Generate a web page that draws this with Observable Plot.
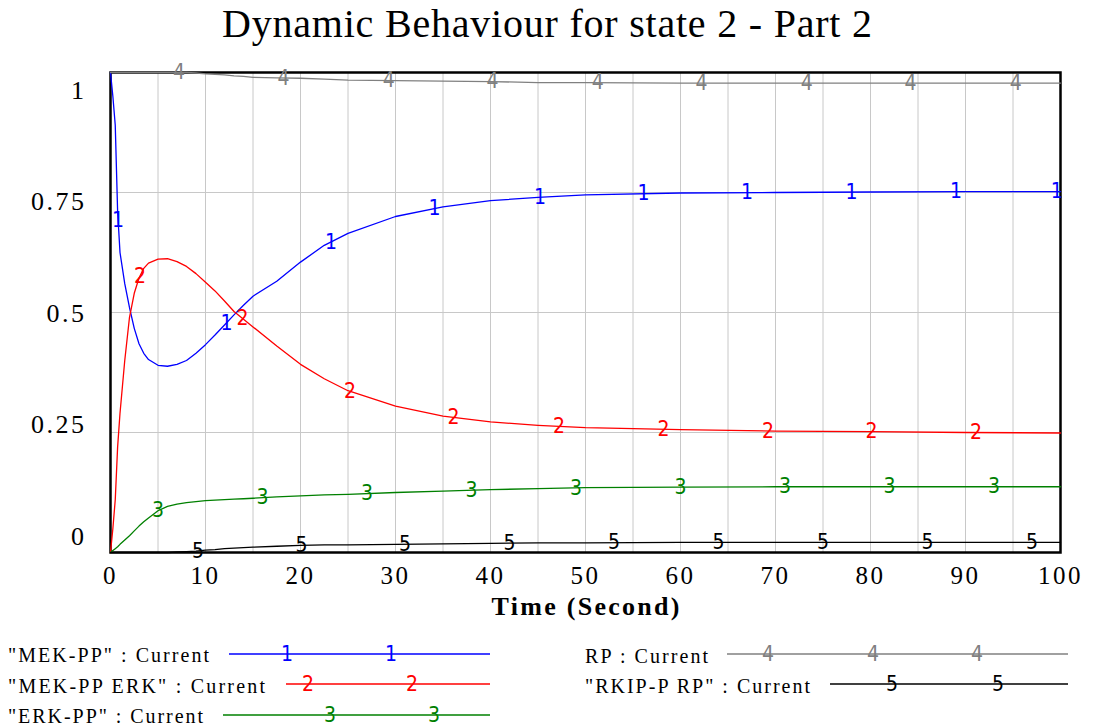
<!DOCTYPE html>
<html>
<head>
<meta charset="utf-8">
<script src="https://cdn.jsdelivr.net/npm/d3@7"></script>
<script src="https://cdn.jsdelivr.net/npm/@observablehq/plot@0.6"></script>
<style>
  html, body { margin: 0; padding: 0; background: #fff; }
  #wrap { width: 1094px; }
  svg { display: block; }
  #chart svg [aria-label$="tick label"] text { letter-spacing: 2.5px; }
</style>
</head>
<body>
<div id="wrap">
  <div id="title"></div>
  <div id="chart"></div>
  <div id="legend"></div>
</div>
<script>
// ---------- data ----------
const titleText = "Dynamic Behaviour for state 2 - Part 2";
const xLabel = "Time (Second)";

const time = [0, 0.25, 0.5, 0.75, 1, 1.5, 2, 2.5, 3, 3.5, 4, 5, 6, 7, 8, 9, 10, 11, 12, 13, 14, 15,
  17.5, 20, 22.5, 25, 30, 35, 40, 45, 50, 60, 70, 80, 90, 100];

const mekPP = [1.0, 0.95, 0.89, 0.71, 0.625, 0.56, 0.51, 0.467, 0.435, 0.415, 0.402, 0.39, 0.388, 0.392,
  0.40, 0.415, 0.433, 0.453, 0.474, 0.495, 0.515, 0.534, 0.565, 0.605, 0.64, 0.665, 0.70, 0.72,
  0.733, 0.740, 0.745, 0.749, 0.750, 0.751, 0.752, 0.752];

const mekPPErk = [0, 0.05, 0.11, 0.22, 0.29, 0.40, 0.49, 0.54, 0.572, 0.592, 0.603, 0.611, 0.612, 0.606,
  0.596, 0.581, 0.563, 0.545, 0.524, 0.502, 0.486, 0.47, 0.43, 0.392, 0.362, 0.337, 0.305, 0.284,
  0.272, 0.265, 0.26, 0.256, 0.253, 0.252, 0.25, 0.249];

const erkPP = [0, 0.004, 0.008, 0.012, 0.017, 0.026, 0.035, 0.045, 0.055, 0.064, 0.072, 0.087, 0.096, 0.101,
  0.104, 0.106, 0.108, 0.109, 0.110, 0.111, 0.112, 0.113, 0.116, 0.118, 0.12, 0.121, 0.125, 0.128,
  0.131, 0.133, 0.135, 0.136, 0.137, 0.137, 0.137, 0.137];

const rp = [1.0, 1.0, 1.0, 1.0, 1.0, 1.0, 1.0, 1.0, 1.0, 1.0, 1.0, 1.0, 1.0, 1.0,
  1.0, 0.999, 0.997, 0.996, 0.995, 0.993, 0.992, 0.99, 0.989, 0.988, 0.986, 0.984, 0.983, 0.982,
  0.981, 0.979, 0.979, 0.978, 0.978, 0.978, 0.978, 0.978];

const rkipPRp = [0, 0, 0, 0, 0, 0, 0, 0, 0, 0, 0, 0, 0, 0.001,
  0.002, 0.003, 0.005, 0.006, 0.008, 0.009, 0.010, 0.011, 0.013, 0.015, 0.016, 0.016, 0.017, 0.018,
  0.019, 0.020, 0.020, 0.021, 0.021, 0.021, 0.021, 0.021];

// positions (in time) of the numbered markers drawn on each curve
const marks1 = [0.8, 12.2, 23.2, 34.1, 45.2, 56.1, 67.0, 78.0, 89.0, 99.6];
const marks2 = [3.1, 13.9, 25.2, 36.1, 47.2, 58.2, 69.2, 80.1, 91.1];
const marks3 = [5.0, 16.0, 27.0, 38.0, 49.0, 60.0, 71.0, 82.0, 93.0];
const marks4 = [7.2, 18.2, 29.3, 40.2, 51.3, 62.2, 73.3, 84.2, 95.3];
const marks5 = [9.2, 20.1, 31.0, 42.0, 53.0, 64.0, 75.0, 86.0, 97.0];

const seriesNames = ['"MEK-PP" : Current', '"MEK-PP ERK" : Current', '"ERK-PP" : Current',
  'RP : Current', '"RKIP-P RP" : Current'];
const seriesColors = ["#0000ff", "#ff0000", "#008000", "#808080", "#000000"];
const seriesMarkers = ["1", "2", "3", "4", "5"];

const xTicks = [0, 10, 20, 30, 40, 50, 60, 70, 80, 90, 100];
const xGrid = [5, 10, 15, 20, 25, 30, 35, 40, 45, 50, 55, 60, 65, 70, 75, 80, 85, 90, 95];
const yTicks = [0, 0.25, 0.5, 0.75, 1];
const yTickLabels = ["0", "0.25", "0.5", "0.75", "1"];
const yGrid = [0.25, 0.5, 0.75];

// ---------- build ----------
const seriesValues = [mekPP, mekPPErk, erkPP, rp, rkipPRp];
const seriesMarks = [marks1, marks2, marks3, marks4, marks5];

function interp(xs, ys, x) {
  const i = Math.max(1, d3.bisectLeft(xs, x));
  const x0 = xs[i - 1], x1 = xs[i], y0 = ys[i - 1], y1 = ys[i];
  return y0 + (y1 - y0) * (x - x0) / (x1 - x0);
}

const markerFont = "'Liberation Sans Narrow', 'DejaVu Sans Condensed', 'Liberation Sans', sans-serif";

// title
const W = 1094;
const tsvg = d3.create("svg").attr("width", W).attr("height", 55);
tsvg.append("text").attr("x", 547).attr("y", 37).attr("text-anchor", "middle")
  .attr("font-family", "'Liberation Serif', serif").attr("font-size", 40)
  .attr("textLength", 650).attr("lengthAdjust", "spacing").text(titleText);
document.getElementById("title").append(tsvg.node());

const marks = [
  Plot.gridX(xGrid, {stroke: "#c8c8c8", strokeOpacity: 1, strokeWidth: 1}),
  Plot.gridY(yGrid, {stroke: "#c8c8c8", strokeOpacity: 1, strokeWidth: 1}),
  Plot.frame({stroke: "#000", strokeWidth: 2.5}),
  Plot.axisX(xTicks, {tickSize: 0, tickPadding: 14, fontSize: 25, label: null, tickFormat: d => String(d)}),
  ...yTicks.map((v, i) => Plot.axisY([v], {
    tickSize: 0, tickPadding: 24, fontSize: 26, label: null,
    dy: 18 - (1 - v) * 34, tickFormat: () => yTickLabels[i]
  }))
];

seriesValues.forEach((vals, k) => {
  const rows = time.map((tt, i) => ({t: tt, v: vals[i]}));
  marks.push(Plot.line(rows, {x: "t", y: "v", stroke: seriesColors[k], strokeWidth: 1.3}));
});
seriesValues.forEach((vals, k) => {
  const mrows = seriesMarks[k].map(mt => ({t: mt, v: interp(time, vals, mt)}));
  marks.push(Plot.text(mrows, {x: "t", y: "v", text: () => seriesMarkers[k], fill: seriesColors[k],
    fontSize: 21, fontFamily: markerFont}));
});
marks.push(Plot.text([xLabel], {frameAnchor: "bottom", dy: 62, text: d => d, fontSize: 26,
  fontWeight: "bold", fill: "#000"}));

const chart = Plot.plot({
  width: W, height: 575,
  marginLeft: 110, marginRight: 34, marginTop: 17, marginBottom: 78,
  x: {domain: [0, 100], axis: null},
  y: {domain: [0, 1], axis: null},
  style: {fontFamily: "'Liberation Serif', serif", color: "#000", background: "#fff", overflow: "visible"},
  marks
});
document.getElementById("chart").append(chart);
// letter spacing for x label
d3.select(chart).selectAll('[aria-label="text"] text').filter(function() { return this.textContent === xLabel; })
  .attr("textLength", 188).attr("lengthAdjust", "spacing");

// legend
const lsvg = d3.create("svg").attr("width", W).attr("height", 97)
  .attr("font-family", "'Liberation Serif', serif");
const legendTextX = [8, 8, 8, 585, 585];
const legendTextW = [201, 257, 195, 123, 225];
const legendBase = [32, 63, 93, 33, 63];
const legendLineY = [24, 54, 85, 24, 54];
const legendLineX = [[229, 490], [286, 490], [223, 490], [727, 1068], [830, 1068]];
const legendMarkX = [[287, 391], [308, 412], [330, 434], [768, 873, 977], [892, 998]];
seriesNames.forEach((name, k) => {
  lsvg.append("text").attr("x", legendTextX[k]).attr("y", legendBase[k]).attr("font-size", 20)
    .attr("textLength", legendTextW[k]).attr("lengthAdjust", "spacing").text(name);
  lsvg.append("line").attr("x1", legendLineX[k][0]).attr("x2", legendLineX[k][1])
    .attr("y1", legendLineY[k]).attr("y2", legendLineY[k])
    .attr("stroke", seriesColors[k]).attr("stroke-width", 1.5);
  legendMarkX[k].forEach(mx => {
    lsvg.append("text").attr("x", mx).attr("y", legendLineY[k]).attr("dy", "0.35em")
      .attr("text-anchor", "middle").attr("font-family", markerFont).attr("font-size", 21)
      .attr("fill", seriesColors[k]).text(seriesMarkers[k]);
  });
});
document.getElementById("legend").append(lsvg.node());
</script>
</body>
</html>
